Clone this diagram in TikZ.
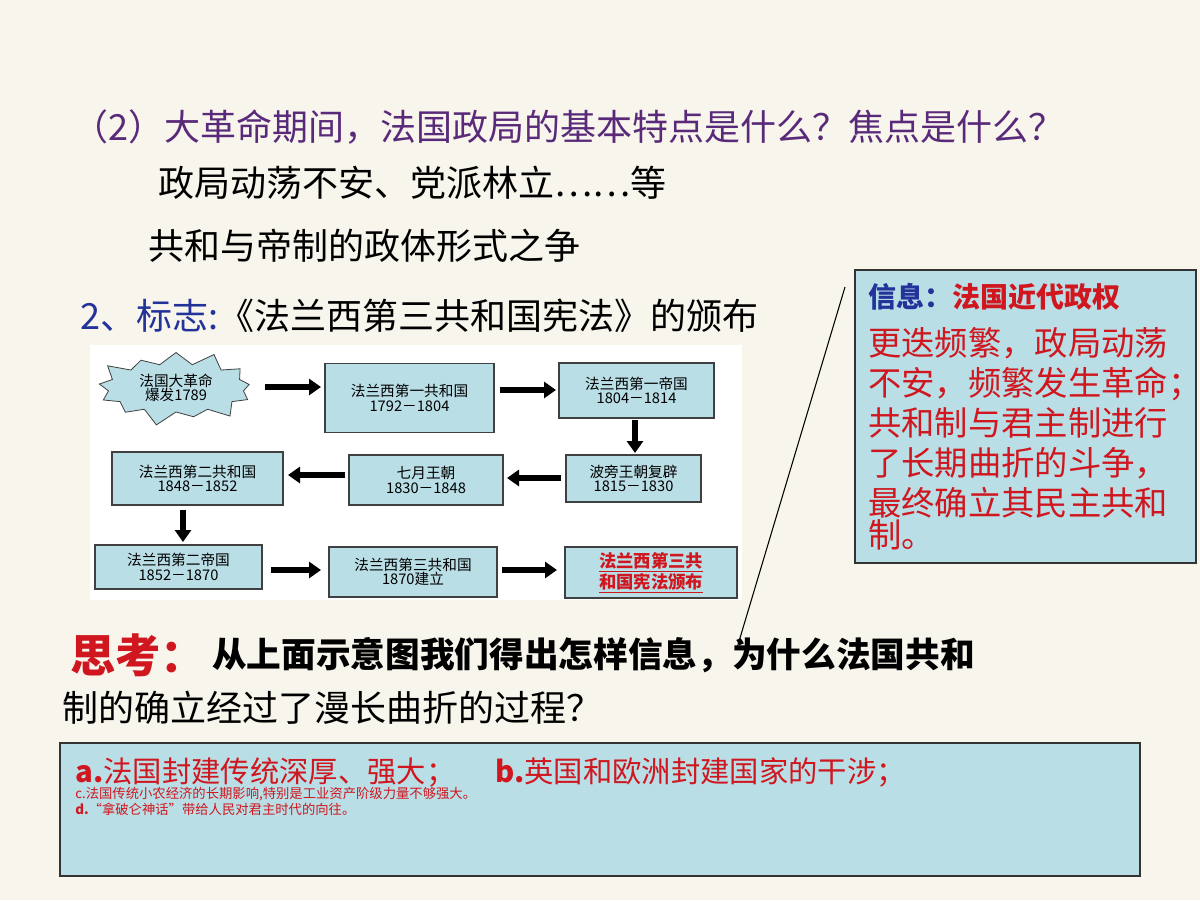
\documentclass[tikz,border=0pt]{standalone}
\usepackage{fontspec}
\setmainfont{Noto Sans CJK SC}
\usetikzlibrary{arrows.meta,shapes.symbols}
\definecolor{bg}{HTML}{F8F5EC}
\definecolor{boxfill}{HTML}{B9DEE6}
\definecolor{myred}{HTML}{D0161E}
\definecolor{mypurple}{HTML}{5A2A7A}
\definecolor{myblue}{HTML}{23339A}
\newcommand{\fs}[1]{\fontsize{#1}{#1}\selectfont}
\tikzset{
  fbox/.style={draw=black!75,fill=boxfill,line width=0.8pt,align=center,inner sep=0pt,font=\fs{11}},
  barrow/.style={line width=4.5pt,-{Triangle[length=9pt,width=12pt]}},
  txt/.style={anchor=west,inner sep=0pt}
}
\begin{document}
\begin{tikzpicture}[x=0.75pt,y=-0.75pt]
\fill[bg] (0,0) rectangle (1200,900);
\useasboundingbox (0,0) rectangle (1200,900);
% headings
\node[txt,text=mypurple,font=\fs{27}] (h1) at (72,127) {（2）大革命期间，法国政局的基本特点是什么？焦点是什么？};
\node[txt,font=\fs{27}] (h2) at (158,183) {政局动荡不安、党派林立……等};
\node[txt,font=\fs{27}] (h3) at (148,246) {共和与帝制的政体形式之争};
\node[txt,font=\fs{27}] (h4) at (80,316) {\textcolor{myblue}{2、标志:}《法兰西第三共和国宪法》的颁布};
% flowchart
\fill[white] (90,345) rectangle (742,600);
\node[starburst,draw=black!75,fill=boxfill,line width=0.6pt,minimum width=126pt,minimum height=60pt,inner sep=0pt,align=center,font=\fs{11},starburst points=13,starburst point height=12pt] (s0) at (176,388) {法国大革命\\爆发1789};
\node[fbox,minimum width=126.75pt,minimum height=51.75pt] (b1) at (409.5,398) {法兰西第一共和国\\1792－1804};
\node[fbox,minimum width=116.25pt,minimum height=41.25pt] (b2) at (636.5,390.5) {法兰西第一帝国\\1804－1814};
\node[fbox,minimum width=101.25pt,minimum height=35.25pt] (b3) at (633.5,478.5) {波旁王朝复辟\\1815－1830};
\node[fbox,minimum width=115.5pt,minimum height=37.5pt] (b4) at (426,480) {七月王朝\\1830－1848};
\node[fbox,minimum width=128.25pt,minimum height=39.75pt] (b5) at (197.5,478.5) {法兰西第二共和国\\1848－1852};
\node[fbox,minimum width=125.25pt,minimum height=33pt] (b6) at (178.5,567) {法兰西第二帝国\\1852－1870};
\node[fbox,minimum width=126pt,minimum height=37.5pt] (b7) at (413,572) {法兰西第三共和国\\1870建立};
\node[fbox,minimum width=129pt,minimum height=38.25pt,font=\fs{13}\bfseries,text=myred] (b8) at (651,572.5) {\underline{法兰西第三共}\\\underline{和国宪法颁布}};
\draw[barrow] (265,387) -- (321,387);
\draw[barrow] (500,390) -- (556,390);
\draw[barrow] (635,420) -- (635,453);
\draw[barrow] (561,478) -- (507,478);
\draw[barrow] (345,475) -- (288,475);
\draw[barrow] (183,510) -- (183,542);
\draw[barrow] (271,570) -- (321,570);
\draw[barrow] (502,570) -- (557,570);
% info box
\node[draw=black!80,fill=boxfill,line width=0.8pt,minimum width=255.75pt,minimum height=219.75pt,inner sep=0pt] (info) at (1025.5,416.5) {};
\node[anchor=north west,inner sep=0pt,align=left,text width=230pt,text=myred] (infot) at (868,283) {\fs{21}\textbf{\textcolor{myblue}{信息：}法国近代政权}\\[6pt]\fontsize{25}{30}\selectfont 更迭频繁，政局动荡\\不安，频繁发生革命；\\共和制与君主制进行\\了长期曲折的斗争，\\最终确立其民主共和\\制。};
\coordinate (l1) at (845,287);
\coordinate (l2) at (737,648);
\draw[line width=0.8pt] (l1) -- (l2);
% think
\node[txt,font=\fs{34}\bfseries,text=myred] (t1) at (70,655) {思考：};
\node[txt,font=\fs{26}\bfseries] (t2) at (212,655) {从上面示意图我们得出怎样信息，为什么法国共和};
\node[txt,font=\fs{27}] (t3) at (62,708) {制的确立经过了漫长曲折的过程？};
% bottom box
\node[draw=black!80,fill=boxfill,line width=1pt,minimum width=810pt,minimum height=99.75pt,inner sep=0pt] (ans) at (600,809.5) {};
\node[anchor=north west,inner sep=0pt,align=left,text=myred] (anst) at (75,757) {\fontsize{22}{29}\selectfont\textbf{a.}法国封建传统深厚、强大；\hspace{30pt}\textbf{b.}英国和欧洲封建国家的干涉；\\c.法国传统小农经济的长期影响,特别是工业资产阶级力量不够强大。\\\textbf{d.}“拿破仑神话”带给人民对君主时代的向往。};
\end{tikzpicture}
\end{document}
